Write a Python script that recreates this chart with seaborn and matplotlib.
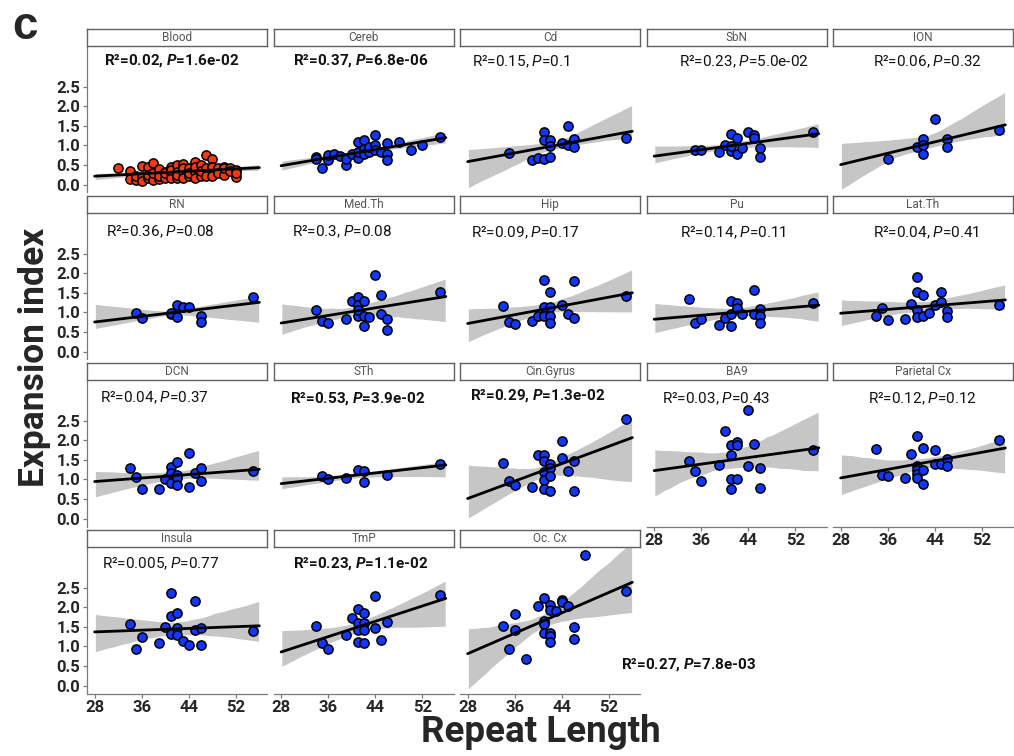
import numpy as np
import pandas as pd
import matplotlib
matplotlib.use("Agg")
import matplotlib.pyplot as plt
from matplotlib.collections import PolyCollection
import seaborn as sns

# ---------------- data ----------------
tissues = ["Blood", "Cereb", "Cd", "SbN", "ION",
           "RN", "Med.Th", "Hip", "Pu", "Lat.Th",
           "DCN", "STh", "Cin.Gyrus", "BA9", "Parietal Cx",
           "Insula", "TmP", "Oc. Cx"]

blood_x = [32, 34, 34, 35, 35, 36, 36, 36, 37, 37, 37, 38, 38, 38, 38, 39, 39, 39, 40, 40,
           40, 41, 41, 41, 41, 42, 42, 42, 42, 43, 43, 43, 43, 44, 44, 44, 45, 45, 45, 45,
           46, 46, 46, 47, 47, 47, 48, 48, 48, 48, 49, 49, 50, 50, 50, 51, 51, 52, 52, 52]
blood_y = [0.42, 0.36, 0.14, 0.12, 0.22, 0.48, 0.20, 0.10, 0.45, 0.16, 0.25, 0.55, 0.30, 0.11,
           0.30, 0.40, 0.15, 0.22, 0.33, 0.16, 0.30, 0.46, 0.29, 0.17, 0.38, 0.50, 0.33, 0.17,
           0.25, 0.52, 0.31, 0.18, 0.42, 0.42, 0.21, 0.30, 0.57, 0.33, 0.18, 0.45, 0.50, 0.21,
           0.36, 0.75, 0.42, 0.21, 0.65, 0.46, 0.21, 0.45, 0.42, 0.30, 0.46, 0.25, 0.42, 0.42,
           0.35, 0.38, 0.20, 0.30]

cereb_x = [34, 34, 35, 36, 36, 37, 38, 39, 39, 40, 41, 41, 41, 42, 42, 42, 43, 43, 44, 44, 44,
           45, 46, 46, 46, 48, 50, 52, 55]
cereb_y = [0.71, 0.65, 0.43, 0.63, 0.75, 0.77, 0.73, 0.50, 0.65, 0.79, 1.08, 0.67, 0.83, 1.13,
           0.92, 0.79, 0.82, 0.96, 1.27, 1.02, 0.88, 0.83, 1.07, 0.79, 0.63, 1.08, 0.88, 1.02, 1.21]

cd_x = [35, 39, 40, 41, 41, 41, 42, 42, 42, 44, 45, 45, 46, 46, 55]
cd_y = [0.81, 0.64, 0.68, 1.33, 1.14, 0.65, 1.14, 0.98, 0.71, 1.07, 1.50, 1.02, 1.17, 0.95, 1.19]

sbn_x = [35, 36, 39, 40, 41, 41, 41, 42, 42, 43, 44, 45, 45, 46, 46, 55]
sbn_y = [0.88, 0.88, 0.83, 1.00, 1.29, 0.85, 0.98, 1.18, 0.79, 0.93, 1.35, 1.27, 1.18, 0.93,
         0.70, 1.33]

ion_x = [36, 41, 42, 42, 42, 44, 46, 46, 55]
ion_y = [0.65, 0.96, 1.17, 1.00, 0.77, 1.67, 1.17, 0.95, 1.39]

rn_x = [35, 36, 41, 41, 42, 42, 43, 44, 46, 46, 55]
rn_y = [0.98, 0.87, 0.97, 0.99, 1.18, 0.88, 1.13, 1.15, 0.92, 0.76, 1.40]

medth_x = [34, 35, 36, 39, 40, 41, 41, 41, 41, 42, 42, 42, 43, 44, 45, 45, 46, 46, 55]
medth_y = [1.07, 0.77, 0.74, 0.82, 1.30, 1.39, 1.20, 0.92, 1.05, 1.29, 0.91, 0.65, 0.88, 1.96,
           1.45, 0.97, 0.82, 0.55, 1.53]

hip_x = [34, 35, 36, 39, 40, 41, 41, 41, 42, 42, 42, 42, 44, 45, 46, 46, 55]
hip_y = [1.17, 0.76, 0.71, 0.79, 0.92, 1.83, 1.13, 0.92, 1.51, 1.13, 0.92, 0.73, 1.20, 0.95,
         1.81, 0.87, 1.41]

pu_x = [34, 35, 36, 39, 40, 41, 41, 41, 42, 42, 43, 45, 45, 46, 46, 46, 55]
pu_y = [1.34, 0.73, 0.82, 0.67, 0.87, 1.28, 0.65, 0.97, 1.24, 1.11, 0.95, 1.57, 0.95, 1.09,
        0.91, 0.73, 1.24]

latth_x = [34, 35, 36, 39, 40, 41, 41, 41, 41, 42, 42, 43, 44, 45, 45, 46, 46, 55]
latth_y = [0.92, 1.11, 0.80, 0.82, 1.22, 1.91, 1.51, 1.07, 0.88, 1.45, 0.92, 0.98, 1.20, 1.51,
           1.26, 1.03, 0.88, 1.20]

dcn_x = [34, 35, 36, 39, 40, 41, 41, 41, 42, 42, 42, 42, 44, 44, 45, 46, 46, 55]
dcn_y = [1.29, 1.06, 0.76, 0.76, 1.00, 1.32, 1.17, 0.90, 1.44, 1.12, 1.04, 0.87, 1.67, 0.80,
         1.17, 1.29, 0.95, 1.21]

sth_x = [35, 36, 39, 41, 42, 42, 46, 55]
sth_y = [1.08, 1.00, 1.04, 1.25, 1.21, 0.94, 1.12, 1.40]

cin_x = [34, 35, 36, 39, 40, 41, 41, 41, 41, 41, 42, 42, 42, 42, 44, 44, 45, 46, 46, 55]
cin_y = [1.41, 0.97, 0.87, 0.81, 1.61, 1.61, 1.47, 1.18, 0.99, 0.75, 1.40, 1.28, 1.09, 0.71,
         1.98, 1.55, 1.22, 1.46, 0.71, 2.54]

ba9_x = [34, 35, 36, 39, 40, 41, 41, 41, 41, 42, 42, 42, 44, 44, 45, 46, 46, 55]
ba9_y = [1.47, 1.22, 0.97, 1.37, 2.23, 1.87, 1.63, 1.01, 0.75, 1.96, 1.87, 1.01, 2.78, 1.35,
         1.90, 1.29, 0.79, 1.74]

par_x = [34, 35, 36, 39, 40, 41, 41, 41, 41, 41, 42, 42, 42, 44, 44, 45, 46, 46, 55]
par_y = [1.78, 1.11, 1.08, 1.04, 1.64, 2.11, 1.35, 1.24, 1.14, 1.03, 1.80, 1.25, 0.88, 1.74,
         1.40, 1.40, 1.53, 1.35, 2.00]

ins_x = [34, 35, 36, 39, 40, 41, 41, 41, 42, 42, 42, 43, 44, 45, 45, 46, 46, 55]
ins_y = [1.57, 0.94, 1.25, 1.09, 1.50, 2.37, 1.78, 1.32, 1.85, 1.47, 1.28, 1.14, 1.03, 2.15,
         1.41, 1.47, 1.04, 1.39]

tmp_x = [34, 35, 36, 39, 40, 41, 41, 41, 41, 42, 42, 42, 42, 44, 44, 45, 46, 55]
tmp_y = [1.52, 1.09, 0.93, 1.30, 1.73, 1.95, 1.60, 1.41, 1.11, 1.85, 1.60, 1.43, 1.08, 2.29,
         1.47, 1.16, 1.62, 2.31]

occx_x = [48, 55, 41, 40, 42, 42, 44, 44, 43, 45, 36, 34, 36, 41, 41, 41, 42, 42, 42, 46, 46,
          35, 38]
occx_y = [3.33, 2.40, 2.23, 2.02, 2.06, 1.93, 2.19, 2.13, 1.89, 2.02, 1.83, 1.52, 1.41, 1.66,
          1.57, 1.33, 1.33, 1.26, 1.10, 1.50, 1.18, 0.94, 0.69]

xs = [blood_x, cereb_x, cd_x, sbn_x, ion_x, rn_x, medth_x, hip_x, pu_x, latth_x,
      dcn_x, sth_x, cin_x, ba9_x, par_x, ins_x, tmp_x, occx_x]
ys = [blood_y, cereb_y, cd_y, sbn_y, ion_y, rn_y, medth_y, hip_y, pu_y, latth_y,
      dcn_y, sth_y, cin_y, ba9_y, par_y, ins_y, tmp_y, occx_y]

r2_labels = ["0.02", "0.37", "0.15", "0.23", "0.06", "0.36", "0.3", "0.09", "0.14", "0.04",
             "0.04", "0.53", "0.29", "0.03", "0.12", "0.005", "0.23", "0.27"]
p_labels = ["1.6e-02", "6.8e-06", "0.1", "5.0e-02", "0.32", "0.08", "0.08", "0.17", "0.11",
            "0.41", "0.37", "3.9e-02", "1.3e-02", "0.43", "0.12", "0.77", "1.1e-02", "7.8e-03"]
significant = [True, True, False, False, False, False, False, False, False, False,
               False, True, True, False, False, False, True, True]

x_ticks = [28, 36, 44, 52]
y_ticks = [0.0, 0.5, 1.0, 1.5, 2.0, 2.5]
y_tick_labels = ["0.0", "0.5", "1.0", "1.5", "2.0", "2.5"]

# annotation positions (data coords of each facet)
ann_pos = [(41.2, 3.17), (41.6, 3.17), (37.1, 3.14), (43.2, 3.14), (42.8, 3.14),
           (39.2, 3.06), (38.4, 3.06), (37.8, 3.04), (41.4, 3.04), (42.6, 3.04),
           (38.2, 3.07), (41.0, 3.07), (40.0, 3.13), (38.6, 3.05), (41.9, 3.05),
           (39.3, 3.1), (41.6, 3.1), (65.6, 0.55)]

# ---------------- style ----------------
sns.set_style("white")
plt.rcParams["font.family"] = ["Roboto", "DejaVu Sans"]
plt.rcParams["mathtext.fontset"] = "custom"
plt.rcParams["mathtext.rm"] = "Roboto"
plt.rcParams["mathtext.it"] = "Roboto:italic"
plt.rcParams["mathtext.bf"] = "Roboto:bold"
plt.rcParams["mathtext.bfit"] = "Roboto:italic:bold"

W, H = 1014, 756
fig = plt.figure(figsize=(W / 100, H / 100), dpi=100)

col_left = [87, 273.5, 460, 646.5, 833]
strip_top = [28.5, 195.5, 362.5, 529.5]
PW, SH, PH = 180, 17, 146
axis_col = "#7a7a7a"
blue = "#1238ff"
red = "#f53a12"

for i, name in enumerate(tissues):
    r, c = divmod(i, 5)
    l = col_left[c]
    st = strip_top[r]
    pt = st + SH + 1
    ax = fig.add_axes([l / W, 1 - (pt + PH) / H, PW / W, PH / H])
    sax = fig.add_axes([l / W, 1 - (st + SH) / H, PW / W, SH / H])
    sax.set_xticks([]); sax.set_yticks([])
    for sp in sax.spines.values():
        sp.set_color("#606060"); sp.set_linewidth(1.0)
    sax.text(0.5, 0.45, name, ha="center", va="center", fontsize=8.5, color="#555555",
             transform=sax.transAxes)

    df = pd.DataFrame({"rl": xs[i], "ei": ys[i]})
    ax.set_xlim(28, 56)
    sns.regplot(data=df, x="rl", y="ei", ax=ax, truncate=False, seed=3, n_boot=1000,
                color="black",
                scatter_kws=dict(s=44, color=red if i == 0 else blue, edgecolor="black",
                                 linewidths=1.1, alpha=1, zorder=3),
                line_kws=dict(color="black", lw=2.0, zorder=4))
    for coll in ax.collections:
        if isinstance(coll, PolyCollection):
            coll.set_facecolor("#c6c6c6"); coll.set_alpha(1); coll.set_zorder(1)
    ax.set_xlim(26.7, 57.3)
    ax.set_ylim(-0.2, 3.52)
    ax.set_xlabel(""); ax.set_ylabel("")

    bottom = (r == 3) or (r == 2 and c >= 3)
    left = (c == 0)
    for sname, sp in ax.spines.items():
        sp.set_color(axis_col); sp.set_linewidth(0.9)
        if sname in ("top", "right"):
            sp.set_visible(False)
    ax.spines["left"].set_visible(left)
    ax.spines["bottom"].set_visible(bottom)
    ax.set_xticks(x_ticks)
    ax.set_yticks(y_ticks)
    ax.tick_params(axis="both", direction="out", length=3, width=0.9, color=axis_col,
                   labelsize=12, pad=2)
    ax.tick_params(axis="x", bottom=bottom, labelbottom=bottom)
    ax.tick_params(axis="y", left=left, labelleft=left)
    if bottom:
        ax.set_xticklabels([str(t) for t in x_ticks], fontweight="bold")
    if left:
        ax.set_yticklabels(y_tick_labels, fontweight="bold")

    if significant[i]:
        txt = "R²=" + r2_labels[i] + ", $\\mathbfit{P}$=" + p_labels[i]
        wt = "bold"
    else:
        txt = "R²=" + r2_labels[i] + ", $\\mathit{P}$=" + p_labels[i]
        wt = "normal"
    tx, ty = ann_pos[i]
    ax.text(tx, ty, txt, ha="center", va="center", fontsize=11, fontweight=wt,
            color="#111111", clip_on=False, zorder=5)

fig.text(35 / W, 1 - 357 / H, "Expansion index", rotation=90, ha="center", va="center",
         fontsize=25.5, fontweight="bold")
fig.text(541 / W, 1 - 742 / H, "Repeat Length", ha="center", va="baseline",
         fontsize=26.5, fontweight="bold")
fig.text(12 / W, 1 - 27 / H, "c", ha="left", va="center", fontsize=33, fontweight="bold",
         family=["Liberation Sans", "DejaVu Sans"])

fig.savefig("out.png", dpi=100)
